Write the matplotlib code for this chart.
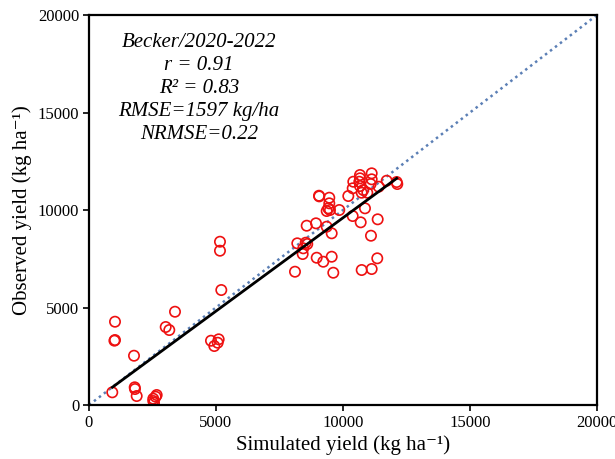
import matplotlib
matplotlib.use("Agg")
import matplotlib.pyplot as plt
import numpy as np

# Simulated vs observed yield (kg/ha)
sim = [1024, 1024, 1000, 1772, 917, 1799, 1811, 1878, 2531, 2626, 2665, 2531, 2560,
       3020, 3161, 3386, 4803, 4933, 5067, 5106, 5157, 5157, 5209,
       9055, 9065, 9461, 9461, 9421, 9358, 9488, 9854, 8571, 8937, 9358, 9555,
       8201, 8531, 8594, 8437, 8413, 8965, 9224, 9555, 8110, 9618,
       10209, 10382, 10406, 10669, 10669, 10669, 10642, 10736, 10799, 10957,
       11130, 11130, 11090, 11406, 11720, 12114, 12138,
       10866, 10382, 10697, 11366, 11102, 11350, 10736, 11130]
obs = [4272, 3333, 3300, 2528, 651, 908, 820, 462, 323, 426, 513, 205, 120,
       4000, 3846, 4784, 3297, 3026, 3195, 3369, 8374, 7913, 5897,
       10733, 10700, 10631, 10343, 10087, 9949, 10000, 10000, 9195, 9318, 9144, 8805,
       8292, 8323, 8256, 8036, 7743, 7553, 7348, 7605, 6836, 6784,
       10718, 11113, 11451, 11795, 11626, 11230, 11451, 10887, 11025, 10887,
       11882, 11574, 11333, 11195, 11502, 11436, 11333,
       10087, 9692, 9369, 9523, 8682, 7523, 6923, 6974]

# regression line end points
fit_x = [917, 12116]
fit_y = [908, 11626]

stats_lines = ["Becker/2020-2022", "r = 0.91", "R² = 0.83",
               "RMSE=1597 kg/ha", "NRMSE=0.22"]

plt.rcParams["font.family"] = ["Liberation Serif", "DejaVu Serif"]

fig = plt.figure(figsize=(6.15, 4.59), dpi=100)
ax = fig.add_axes([0.1447, 0.1176, 0.826, 0.8497])

ax.plot([0, 20000], [0, 20000], linestyle=(0, (1, 1.5)), color="#5b7fb5", lw=1.8, zorder=1)
ax.scatter(sim, obs, s=55, facecolors="none", edgecolors="#ee1111", linewidths=1.2, zorder=2)
ax.plot(fit_x, fit_y, color="black", lw=2, zorder=3)

ax.set_xlim(0, 20000)
ax.set_ylim(0, 20000)
ax.set_xticks([0, 5000, 10000, 15000, 20000])
ax.set_yticks([0, 5000, 10000, 15000, 20000])
ax.tick_params(direction="out", length=4, width=1.2, labelsize=12, pad=3)
for s in ax.spines.values():
    s.set_linewidth(1.6)

ax.set_xlabel("Simulated yield (kg ha⁻¹)", fontsize=15, labelpad=3)
ax.set_ylabel("Observed yield (kg ha⁻¹)", fontsize=15, labelpad=4)

for i, t in enumerate(stats_lines):
    ax.text(0.217, 0.93 - i * 0.059, t, transform=ax.transAxes, ha="center",
            va="center", fontsize=15, style="italic")

fig.savefig("out.png", dpi=100)
